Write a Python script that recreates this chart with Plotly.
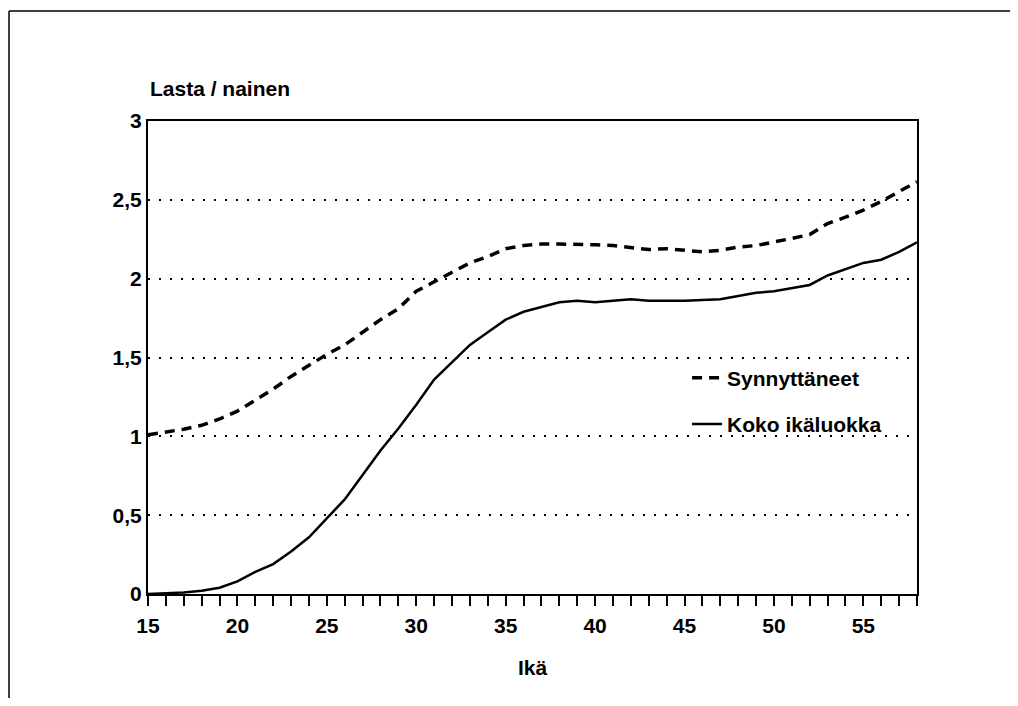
import plotly.graph_objects as go

ages = list(range(15, 59))

synnyttaneet = [1.01, 1.025, 1.045, 1.07, 1.11, 1.16, 1.23, 1.30, 1.38, 1.45,
                1.52, 1.58, 1.66, 1.74, 1.81, 1.92, 1.98, 2.04, 2.10, 2.14,
                2.19, 2.21, 2.22, 2.22, 2.22, 2.215, 2.21, 2.20, 2.185, 2.19,
                2.18, 2.17, 2.18, 2.20, 2.21, 2.23, 2.255, 2.28, 2.35, 2.39,
                2.435, 2.49, 2.55, 2.615]

koko_ikaluokka = [0.0, 0.005, 0.01, 0.02, 0.04, 0.08, 0.14, 0.19, 0.27, 0.36,
                  0.48, 0.60, 0.755, 0.91, 1.05, 1.20, 1.36, 1.47, 1.58, 1.66,
                  1.74, 1.79, 1.82, 1.85, 1.86, 1.85, 1.86, 1.87, 1.86, 1.86,
                  1.86, 1.865, 1.87, 1.89, 1.91, 1.92, 1.94, 1.96, 2.02, 2.06,
                  2.10, 2.12, 2.17, 2.23]

y_tickvals = [0, 0.5, 1, 1.5, 2, 2.5, 3]
y_ticktext = ["0", "0,5", "1", "1,5", "2", "2,5", "3"]
x_tickvals = [15, 20, 25, 30, 35, 40, 45, 50, 55]

FONT = "Liberation Sans, Arial, sans-serif"
FS = 21

W, H = 1002, 690
L, R, T, B = 140, 93, 113, 104
PW, PH = W - L - R, H - T - B

fig = go.Figure()
fig.add_trace(go.Scatter(
    x=ages, y=synnyttaneet, mode="lines", name="Synnyttäneet",
    legendgroup="a",
    line=dict(color="black", width=3.5, dash="10px,7px"),
))
fig.add_trace(go.Scatter(
    x=ages, y=koko_ikaluokka, mode="lines", name="Koko ikäluokka",
    legendgroup="b",
    line=dict(color="black", width=2.5),
))

fig.update_layout(
    width=W, height=H,
    margin=dict(l=L, r=R, t=T, b=B),
    paper_bgcolor="white", plot_bgcolor="white",
    font=dict(family=FONT, size=FS, color="black", weight="bold"),
    showlegend=True,
    legend=dict(x=0.701, y=0.50, xanchor="left", yanchor="top",
                bgcolor="rgba(0,0,0,0)", traceorder="grouped",
                tracegroupgap=16, itemwidth=30,
                font=dict(family=FONT, size=FS, color="black", weight="bold")),
    xaxis=dict(
        range=[15, 58], tickmode="array", tickvals=x_tickvals,
        ticks="outside", ticklen=10, tickwidth=2, tickcolor="black",
        ticklabelstandoff=2,
        minor=dict(dtick=1, tick0=15, ticks="outside", ticklen=10,
                   tickwidth=2, tickcolor="black", showgrid=False),
        showline=True, linecolor="black", linewidth=2, mirror=True,
        showgrid=False, zeroline=False,
        title=dict(text="Ikä", standoff=24,
                   font=dict(size=FS, weight="bold")),
    ),
    yaxis=dict(
        range=[0, 3], tickmode="array", tickvals=y_tickvals,
        ticktext=y_ticktext, ticks="",
        showline=True, linecolor="black", linewidth=2, mirror=True,
        showgrid=True, gridcolor="black", gridwidth=1.8, griddash="2px,9px",
        zeroline=False,
    ),
    annotations=[dict(
        text="Lasta / nainen", xref="paper", yref="paper",
        x=0, y=1 + (T - 81) / PH, xanchor="left", yanchor="middle",
        showarrow=False,
        font=dict(family=FONT, size=FS, color="black", weight="bold"),
    )],
    shapes=[
        dict(type="line", xref="paper", yref="paper",
             x0=(1 - L) / PW, x1=(W - L) / PW,
             y0=1 + (T - 3) / PH, y1=1 + (T - 3) / PH,
             line=dict(color="black", width=1.5), layer="below"),
        dict(type="line", xref="paper", yref="paper",
             x0=(1 - L) / PW, x1=(1 - L) / PW,
             y0=-B / PH, y1=1 + (T - 3) / PH,
             line=dict(color="black", width=1.5), layer="below"),
    ],
)

fig.write_html("out.html")
